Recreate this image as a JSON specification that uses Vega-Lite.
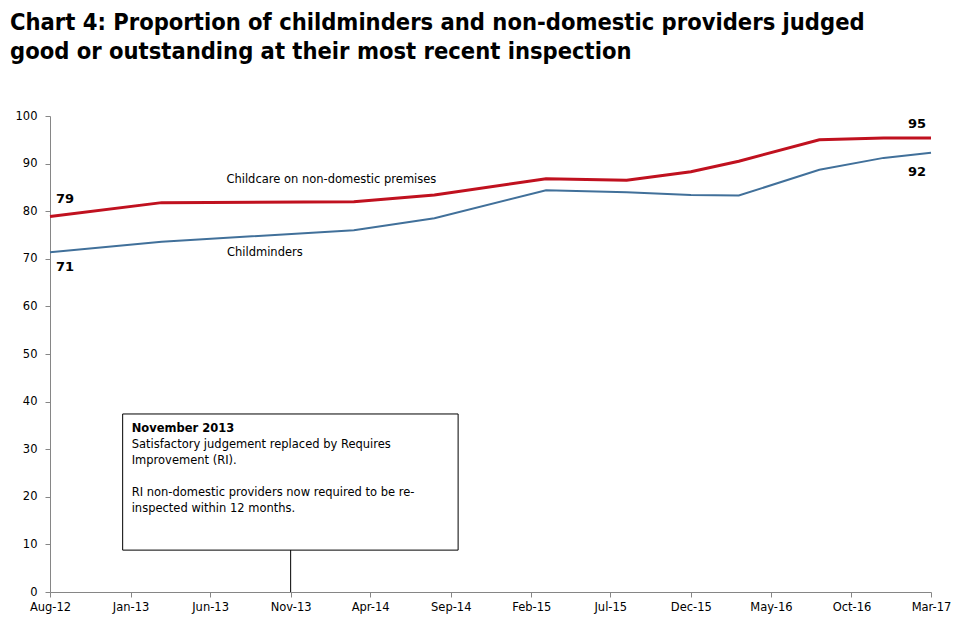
{
  "$schema": "https://vega.github.io/schema/vega-lite/v6.json",
  "width": 881,
  "height": 476,
  "autosize": "none",
  "padding": {"left": 50, "top": 116, "right": 29, "bottom": 48},
  "background": "white",
  "title": {
    "text": ["Chart 4: Proportion of childminders and non-domestic providers judged", "good or outstanding at their most recent inspection"],
    "anchor": "start",
    "frame": "group",
    "dx": -40,
    "offset": 47,
    "font": "DejaVu Sans Condensed",
    "fontSize": 23.5,
    "fontWeight": "bold",
    "lineHeight": 29,
    "color": "black"
  },
  "config": {
    "view": {"stroke": null},
    "axis": {
      "domainColor": "#868686",
      "tickColor": "#868686",
      "labelColor": "black",
      "labelFont": "DejaVu Sans",
      "labelFontSize": 11.5,
      "grid": false,
      "title": null
    }
  },
  "data": {
    "values": [
      {"date": "2012-08-01", "series": "Childcare on non-domestic premises", "value": 78.9},
      {"date": "2013-03-01", "series": "Childcare on non-domestic premises", "value": 81.8},
      {"date": "2014-03-01", "series": "Childcare on non-domestic premises", "value": 82.0},
      {"date": "2014-08-01", "series": "Childcare on non-domestic premises", "value": 83.4},
      {"date": "2015-03-01", "series": "Childcare on non-domestic premises", "value": 86.8},
      {"date": "2015-08-01", "series": "Childcare on non-domestic premises", "value": 86.5},
      {"date": "2015-12-01", "series": "Childcare on non-domestic premises", "value": 88.3},
      {"date": "2016-03-01", "series": "Childcare on non-domestic premises", "value": 90.5},
      {"date": "2016-08-01", "series": "Childcare on non-domestic premises", "value": 95.0},
      {"date": "2016-12-01", "series": "Childcare on non-domestic premises", "value": 95.4},
      {"date": "2017-03-01", "series": "Childcare on non-domestic premises", "value": 95.4},
      {"date": "2012-08-01", "series": "Childminders", "value": 71.4},
      {"date": "2013-03-01", "series": "Childminders", "value": 73.6},
      {"date": "2014-03-01", "series": "Childminders", "value": 76.0},
      {"date": "2014-08-01", "series": "Childminders", "value": 78.5},
      {"date": "2015-03-01", "series": "Childminders", "value": 84.4},
      {"date": "2015-08-01", "series": "Childminders", "value": 84.0},
      {"date": "2015-12-01", "series": "Childminders", "value": 83.4},
      {"date": "2016-03-01", "series": "Childminders", "value": 83.3},
      {"date": "2016-08-01", "series": "Childminders", "value": 88.7},
      {"date": "2016-12-01", "series": "Childminders", "value": 91.2},
      {"date": "2017-03-01", "series": "Childminders", "value": 92.3}
    ]
  },
  "encoding": {
    "x": {
      "field": "date",
      "type": "temporal",
      "scale": {"domain": [{"year": 2012, "month": 8, "date": 1}, {"year": 2017, "month": 3, "date": 1}]},
      "axis": {
        "values": [
          {"year": 2012, "month": 8, "date": 1}, {"year": 2013, "month": 1, "date": 1},
          {"year": 2013, "month": 6, "date": 1}, {"year": 2013, "month": 11, "date": 1},
          {"year": 2014, "month": 4, "date": 1}, {"year": 2014, "month": 9, "date": 1},
          {"year": 2015, "month": 2, "date": 1}, {"year": 2015, "month": 7, "date": 1},
          {"year": 2015, "month": 12, "date": 1}, {"year": 2016, "month": 5, "date": 1},
          {"year": 2016, "month": 10, "date": 1}, {"year": 2017, "month": 3, "date": 1}
        ],
        "format": "%b-%y",
        "tickSize": 5,
        "labelPadding": 4,
        "labelFlush": false,
        "labelOverlap": false
      }
    },
    "y": {
      "field": "value",
      "type": "quantitative",
      "scale": {"domain": [0, 100], "nice": false, "zero": true},
      "axis": {"values": [0, 10, 20, 30, 40, 50, 60, 70, 80, 90, 100], "tickSize": 5, "labelPadding": 8}
    }
  },
  "layer": [
    {
      "transform": [{"filter": "datum.series === 'Childminders' && year(datum.date) === 2012"}],
      "mark": {"type": "rect", "fill": "white", "stroke": "black", "strokeWidth": 1},
      "encoding": {
        "x": {"datum": {"year": 2012, "month": 12, "date": 17}, "type": "temporal"},
        "x2": {"datum": {"year": 2014, "month": 9, "date": 15}},
        "y": {"datum": 37.4, "type": "quantitative"},
        "y2": {"datum": 8.8}
      }
    },
    {
      "transform": [{"filter": "datum.series === 'Childminders' && year(datum.date) === 2012"}],
      "mark": {"type": "rule", "color": "black", "strokeWidth": 1},
      "encoding": {
        "x": {"datum": {"year": 2013, "month": 11, "date": 1}, "type": "temporal"},
        "y": {"datum": 8.8, "type": "quantitative"},
        "y2": {"datum": 0}
      }
    },
    {
      "transform": [{"filter": "datum.series === 'Childminders' && year(datum.date) === 2012"}],
      "mark": {"type": "text", "align": "left", "baseline": "alphabetic", "font": "DejaVu Sans", "fontSize": 11.5, "fontWeight": "bold", "color": "black", "dx": 9},
      "encoding": {
        "x": {"datum": {"year": 2012, "month": 12, "date": 17}, "type": "temporal"},
        "y": {"datum": 33.6, "type": "quantitative"},
        "text": {"value": "November 2013"}
      }
    },
    {
      "transform": [{"filter": "datum.series === 'Childminders' && year(datum.date) === 2012"}],
      "mark": {"type": "text", "align": "left", "baseline": "alphabetic", "font": "DejaVu Sans", "fontSize": 11.5, "lineHeight": 16, "color": "black", "dx": 9},
      "encoding": {
        "x": {"datum": {"year": 2012, "month": 12, "date": 17}, "type": "temporal"},
        "y": {"datum": 30.2, "type": "quantitative"},
        "text": {"value": ["Satisfactory judgement replaced by Requires", "Improvement (RI)."]}
      }
    },
    {
      "transform": [{"filter": "datum.series === 'Childminders' && year(datum.date) === 2012"}],
      "mark": {"type": "text", "align": "left", "baseline": "alphabetic", "font": "DejaVu Sans", "fontSize": 11.5, "lineHeight": 16, "color": "black", "dx": 9},
      "encoding": {
        "x": {"datum": {"year": 2012, "month": 12, "date": 17}, "type": "temporal"},
        "y": {"datum": 20.2, "type": "quantitative"},
        "text": {"value": ["RI non-domestic providers now required to be re-", "inspected within 12 months."]}
      }
    },
    {
      "mark": {"type": "line", "strokeWidth": 3, "interpolate": "linear"},
      "transform": [{"filter": "datum.series === 'Childcare on non-domestic premises'"}],
      "encoding": {"color": {"value": "#C0111F"}}
    },
    {
      "mark": {"type": "line", "strokeWidth": 2, "interpolate": "linear"},
      "transform": [{"filter": "datum.series === 'Childminders'"}],
      "encoding": {"color": {"value": "#41709A"}}
    },
    {
      "mark": {"type": "text", "font": "DejaVu Sans", "fontSize": 13, "fontWeight": "bold", "color": "black", "align": "center", "baseline": "middle", "dx": 15, "dy": -17},
      "transform": [{"filter": "datum.series === 'Childcare on non-domestic premises' && year(datum.date) === 2012"}],
      "encoding": {"text": {"field": "value", "type": "quantitative", "format": ".0f"}}
    },
    {
      "mark": {"type": "text", "font": "DejaVu Sans", "fontSize": 13, "fontWeight": "bold", "color": "black", "align": "center", "baseline": "middle", "dx": 15, "dy": 15},
      "transform": [{"filter": "datum.series === 'Childminders' && year(datum.date) === 2012"}],
      "encoding": {"text": {"field": "value", "type": "quantitative", "format": ".0f"}}
    },
    {
      "mark": {"type": "text", "font": "DejaVu Sans", "fontSize": 13, "fontWeight": "bold", "color": "black", "align": "center", "baseline": "middle", "dx": -14, "dy": -14},
      "transform": [{"filter": "datum.series === 'Childcare on non-domestic premises' && year(datum.date) === 2017"}],
      "encoding": {"text": {"field": "value", "type": "quantitative", "format": ".0f"}}
    },
    {
      "mark": {"type": "text", "font": "DejaVu Sans", "fontSize": 13, "fontWeight": "bold", "color": "black", "align": "center", "baseline": "middle", "dx": -14, "dy": 19},
      "transform": [{"filter": "datum.series === 'Childminders' && year(datum.date) === 2017"}],
      "encoding": {"text": {"field": "value", "type": "quantitative", "format": ".0f"}}
    },
    {
      "transform": [{"filter": "datum.series === 'Childminders' && year(datum.date) === 2012"}],
      "mark": {"type": "text", "font": "DejaVu Sans", "fontSize": 11.5, "color": "black", "align": "left", "baseline": "middle"},
      "encoding": {
        "x": {"datum": {"year": 2013, "month": 7, "date": 2}, "type": "temporal"},
        "y": {"datum": 86.5, "type": "quantitative"},
        "text": {"value": "Childcare on non-domestic premises"}
      }
    },
    {
      "transform": [{"filter": "datum.series === 'Childminders' && year(datum.date) === 2012"}],
      "mark": {"type": "text", "font": "DejaVu Sans", "fontSize": 11.5, "color": "black", "align": "left", "baseline": "middle"},
      "encoding": {
        "x": {"datum": {"year": 2013, "month": 7, "date": 3}, "type": "temporal"},
        "y": {"datum": 71.2, "type": "quantitative"},
        "text": {"value": "Childminders"}
      }
    }
  ]
}
